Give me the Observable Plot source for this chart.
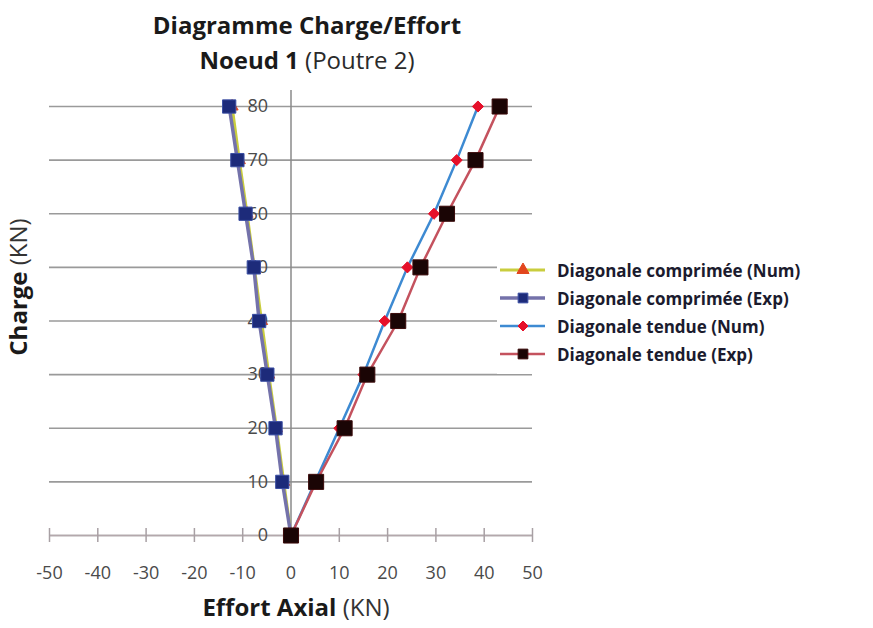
<!DOCTYPE html>
<html><head><meta charset="utf-8">
<script src="https://cdn.jsdelivr.net/npm/d3@7"></script>
<script src="https://cdn.jsdelivr.net/npm/@observablehq/plot@0.6"></script>
<style>
body{margin:0;background:#fff;font-family:"Open Sans",sans-serif;}
#wrap{position:relative;width:873px;height:628px;overflow:hidden;}
#title{width:614px;height:80px;text-align:center;color:#1a1a1a;font-size:24px;line-height:35px;padding-top:7px;box-sizing:border-box;}
#title b{font-weight:700;}
#title span{font-weight:400;color:#2a2a2a;}
#legend{position:absolute;left:497px;top:252px;width:350px;height:122px;background:#fff;}
.row{position:absolute;left:0;height:28px;display:flex;align-items:center;white-space:nowrap;}
.row svg{flex:none;}
.row .t{margin-left:10px;font-size:17px;font-weight:700;color:#1b1b2e;}
</style></head><body>
<div id="wrap">
  <div id="title"><b>Diagramme Charge/Effort</b><br><b>Noeud 1</b> <span>(Poutre 2)</span></div>
  <div id="chart"></div>
  <div id="legend"></div>
</div>
<script>
// Data (Charge in KN vs Effort axial in KN)
const charge = [0, 10, 20, 30, 40, 50, 60, 70, 80];
const compNum = [0, -1.5, -3.0, -4.6, -6.1, -7.6, -9.1, -10.7, -12.2];
const compExp = [0, -1.8, -3.2, -4.9, -6.6, -7.7, -9.4, -11.1, -12.8];
const tendNum = [0, 5.0, 10.0, 15.0, 19.4, 24.1, 29.6, 34.3, 38.7];
const tendExp = [0, 5.2, 11.1, 15.8, 22.2, 26.8, 32.3, 38.2, 43.2];
const seriesNames = ["Diagonale comprimée (Num)", "Diagonale comprimée (Exp)", "Diagonale tendue (Num)", "Diagonale tendue (Exp)"];
const xTicks = [-50, -40, -30, -20, -10, 0, 10, 20, 30, 40, 50];
const yTicks = [0, 10, 20, 30, 40, 50, 60, 70, 80];

const styles = [
  {line: "#c9cd3e", lw: 3, symbol: "triangle", fill: "#e2461e", stroke: "#e2461e", r: 4.5},
  {line: "#7472aa", lw: 3.5, symbol: "square", fill: "#1d2b7a", stroke: "#3b4fa3", r: 7.5},
  {line: "#3d8ad2", lw: 2.5, symbol: "diamond2", fill: "#e6102a", stroke: "#e6102a", r: 5},
  {line: "#c4525e", lw: 2.5, symbol: "square", fill: "#1a0505", stroke: "#3a0a0a", r: 8.5}
];
const valuesList = [compNum, compExp, tendNum, tendExp];
const rows = valuesList.map((vals, i) => charge.map((c, j) => ({serie: seriesNames[i], charge: c, effort: vals[j]})));

const W = 873, H = 548, mL = 49, mR = 341, mT = 26, mB = 93;
const x0px = mL + (0 - (-50)) / 100 * (W - mL - mR);
const fmt = d => String(d);

const marks = [
  Plot.gridY(yTicks, {stroke: "#9a9a9a", strokeOpacity: 1, strokeWidth: 1.6}),
  Plot.ruleY([0], {stroke: "#b4a8ac", strokeWidth: 1.5}),
  Plot.ruleX([0], {y1: 0, y2: 83, stroke: "#8a8a8a", strokeWidth: 1.5}),
  Plot.axisX({ticks: xTicks, tickSize: 14, dy: -7, fill: "none", stroke: "#a8a0a4", strokeWidth: 1.5, label: null}),
  Plot.axisX({ticks: xTicks, tickSize: 0, tickPadding: 31, tickFormat: fmt, fontSize: 18, fill: "#4a4a4a", label: null}),
  Plot.axisY({ticks: yTicks, anchor: "left", tickSize: 0, tickPadding: 23, tickFormat: fmt, dx: x0px - mL, fontSize: 18, fill: "#4a4a4a", label: null})
];
rows.forEach((data, i) => {
  const s = styles[i];
  marks.push(Plot.line(data, {x: "effort", y: "charge", stroke: s.line, strokeWidth: s.lw}));
  marks.push(Plot.dot(data, {x: "effort", y: "charge", symbol: () => s.symbol, fill: s.fill, stroke: s.stroke, strokeWidth: 1, r: s.r}));
});

const chart = Plot.plot({
  width: W, height: H,
  marginLeft: mL, marginRight: mR, marginTop: mT, marginBottom: mB,
  style: {fontFamily: "Open Sans, sans-serif", background: "#fff"},
  x: {domain: [-50, 50]},
  y: {domain: [0, 80]},
  symbol: {type: "identity"},
  marks
});
document.getElementById("chart").appendChild(chart);

// Axis titles with mixed weights
const svg = d3.select(chart);
const xt = svg.append("text").attr("x", 296).attr("y", 530).attr("text-anchor", "middle")
  .attr("dominant-baseline", "middle").attr("font-size", 24).attr("fill", "#1a1a1a");
xt.append("tspan").attr("font-weight", 700).text("Effort Axial");
xt.append("tspan").attr("font-weight", 400).attr("fill", "#333").text(" (KN)");
const yt = svg.append("text").attr("transform", "translate(21,207) rotate(-90)").attr("text-anchor", "middle")
  .attr("dominant-baseline", "middle").attr("font-size", 24).attr("fill", "#1a1a1a");
yt.append("tspan").attr("font-weight", 700).text("Charge");
yt.append("tspan").attr("font-weight", 400).attr("fill", "#333").text(" (KN)");

// Legend
const leg = d3.select("#legend");
seriesNames.forEach((name, i) => {
  const s = styles[i];
  const row = leg.append("div").attr("class", "row").style("top", (4 + i * 28) + "px");
  const sw = row.append("svg").attr("width", 50).attr("height", 20);
  sw.append("line").attr("x1", 3).attr("x2", 48).attr("y1", 10).attr("y2", 10).attr("stroke", s.line).attr("stroke-width", s.lw);
  const sym = {triangle: d3.symbolTriangle, square: d3.symbolSquare, diamond2: d3.symbolDiamond2}[s.symbol];
  const size = Math.PI * Math.pow(s.symbol === "square" ? 5.5 : 4.5, 2);
  sw.append("path").attr("transform", "translate(26,10)").attr("d", d3.symbol(sym, size)())
    .attr("fill", s.fill).attr("stroke", s.stroke);
  row.append("span").attr("class", "t").text(name);
});
</script>
</body></html>
